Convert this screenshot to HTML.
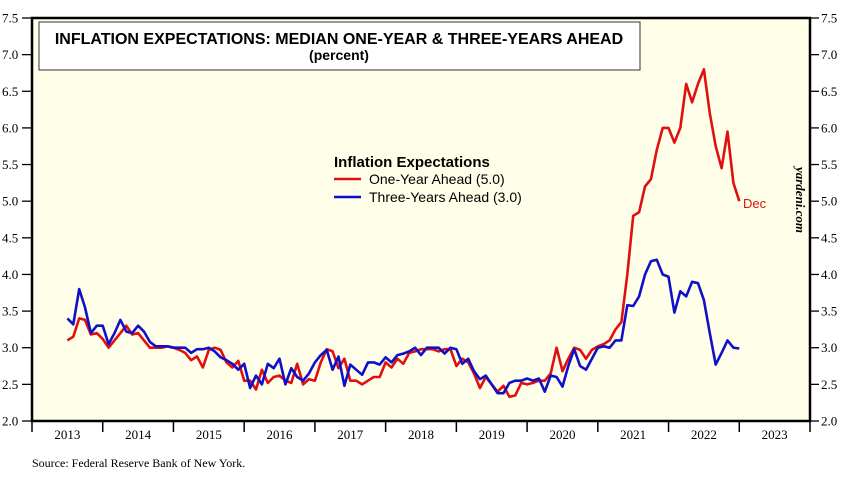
<!DOCTYPE html>
<html><head><meta charset="utf-8"><style>
html,body{margin:0;padding:0;background:#fff;}
svg{display:block;font-family:"Liberation Serif",serif;}
.sans{font-family:"Liberation Sans",sans-serif;}
</style></head><body>
<svg id="chart" width="843" height="477" viewBox="0 0 843 477">
<rect x="32" y="18" width="778" height="403" fill="#fffee8"/>
<g id="axes"></g>
<g id="series"></g>
<rect x="32" y="18" width="778" height="403" fill="none" stroke="#000" stroke-width="2.5"/>
<rect x="39" y="22" width="601" height="48" fill="#fff" stroke="#333" stroke-width="1"/>
<text class="sans" x="339" y="44" text-anchor="middle" font-size="16" font-weight="bold">INFLATION EXPECTATIONS: MEDIAN ONE-YEAR &amp; THREE-YEARS AHEAD</text>
<text class="sans" x="339" y="60" text-anchor="middle" font-size="14" font-weight="bold">(percent)</text>
<g>
<text class="sans" x="334" y="167" font-size="15" font-weight="bold">Inflation Expectations</text>
<line x1="334" y1="179" x2="361" y2="179" stroke="#e01010" stroke-width="2.5"/>
<text class="sans" x="369" y="184" font-size="14">One-Year Ahead (5.0)</text>
<line x1="334" y1="197" x2="361" y2="197" stroke="#1010c8" stroke-width="2.5"/>
<text class="sans" x="369" y="202" font-size="14">Three-Years Ahead (3.0)</text>
</g>
<text class="sans" x="743" y="208" font-size="13" fill="#e01010">Dec</text>
<text x="0" y="0" font-size="13" font-weight="bold" font-style="italic" transform="translate(796,200) rotate(90)" text-anchor="middle">yardeni.com</text>
<text x="32" y="467" font-size="12">Source: Federal Reserve Bank of New York.</text>
</svg>
<script>
const yearLabels = ["2013","2014","2015","2016","2017","2018","2019","2020","2021","2022","2023"];
const yTicks = [2.0,2.5,3.0,3.5,4.0,4.5,5.0,5.5,6.0,6.5,7.0,7.5];
const startYear = 2013, startMonth = 6;
const oneYear = [
3.1,3.15,3.4,3.38,3.18,3.2,3.12,
3.0,3.1,3.2,3.3,3.18,3.2,3.1,3.0,3.0,3.0,3.02,3.0,
2.97,2.93,2.83,2.88,2.73,2.97,3.0,2.97,2.8,2.73,2.82,2.55,
2.55,2.43,2.7,2.52,2.6,2.62,2.55,2.52,2.78,2.5,2.57,2.55,
2.8,2.98,2.95,2.72,2.85,2.55,2.55,2.5,2.55,2.6,2.6,2.8,
2.73,2.85,2.78,2.93,2.95,2.98,2.98,2.98,2.95,2.98,2.98,2.75,
2.85,2.8,2.65,2.45,2.6,2.5,2.4,2.48,2.33,2.35,2.52,2.5,
2.52,2.55,2.55,2.65,3.0,2.68,2.85,3.0,2.97,2.85,2.97,3.02,
3.05,3.1,3.25,3.35,4.0,4.8,4.85,5.2,5.3,5.7,6.0,6.0,
5.8,6.0,6.6,6.35,6.6,6.8,6.2,5.75,5.45,5.95,5.25,5.0];
const threeYear = [
3.4,3.32,3.8,3.55,3.2,3.3,3.3,
3.05,3.2,3.38,3.22,3.2,3.3,3.22,3.08,3.02,3.02,3.02,3.0,
3.0,3.0,2.93,2.98,2.98,3.0,2.95,2.87,2.83,2.78,2.7,2.78,
2.45,2.62,2.5,2.78,2.72,2.85,2.5,2.72,2.6,2.55,2.65,2.8,
2.9,2.97,2.7,2.88,2.48,2.77,2.7,2.63,2.8,2.8,2.77,2.87,
2.8,2.9,2.92,2.95,3.0,2.9,3.0,3.0,3.0,2.92,3.0,2.98,
2.78,2.85,2.68,2.57,2.62,2.5,2.38,2.38,2.52,2.55,2.55,2.58,
2.55,2.58,2.4,2.62,2.6,2.47,2.75,2.98,2.75,2.7,2.85,3.0,
3.02,3.0,3.1,3.1,3.58,3.57,3.7,4.0,4.18,4.2,4.0,3.97,
3.48,3.77,3.7,3.9,3.88,3.65,3.2,2.77,2.93,3.1,3.0,2.99];

const X0=32, X1=810, Y0=421, Y1=18, yMin=2.0, yMax=7.5;
const yearW=(X1-X0)/yearLabels.length;
function xScale(t){return X0+t*yearW;}
function yScale(v){return Y0-(v-yMin)/(yMax-yMin)*(Y0-Y1);}
const NS="http://www.w3.org/2000/svg";
const axes=document.getElementById('axes'), series=document.getElementById('series');
function mk(tag,attrs,parent){const e=document.createElementNS(NS,tag);for(const k in attrs)e.setAttribute(k,attrs[k]);parent.appendChild(e);return e;}

yTicks.forEach(v=>{
  const y=yScale(v);
  const tl=mk('line',{x1:22,x2:X0,y1:y,y2:y,stroke:'#000','stroke-width':1.3},axes);
  
  
  const tr=mk('line',{x1:X1,x2:819,y1:y,y2:y,stroke:'#000','stroke-width':1.3},axes);
  
  
  const a=mk('text',{x:2,y:y+4.5,'font-size':13},axes);a.textContent=v.toFixed(1);
  
  
  const b=mk('text',{x:821,y:y+4.5,'font-size':13},axes);b.textContent=v.toFixed(1);
  
  
});
for(let i=0;i<=yearLabels.length;i++){
  const x=xScale(i);
  const t=mk('line',{x1:x,x2:x,y1:Y0,y2:Y0+11,stroke:'#000','stroke-width':1.5},axes);
  
  
}
yearLabels.forEach((lab,i)=>{
  const t=mk('text',{x:xScale(i+0.5),y:439,'font-size':13,'text-anchor':'middle'},axes);
  t.textContent=lab;
  
  
});
function tOf(i){const m=startMonth+i;return (m)/12;}
function path(vals){return vals.map((v,i)=>(i?'L':'M')+xScale(tOf(i)).toFixed(1)+' '+yScale(v).toFixed(1)).join(' ');}
const r=mk('path',{d:path(oneYear),fill:'none',stroke:'#e01010','stroke-width':2.6,'stroke-linejoin':'round'},series);


const bl=mk('path',{d:path(threeYear),fill:'none',stroke:'#1010c8','stroke-width':2.6,'stroke-linejoin':'round'},series);


</script>
</body></html>
